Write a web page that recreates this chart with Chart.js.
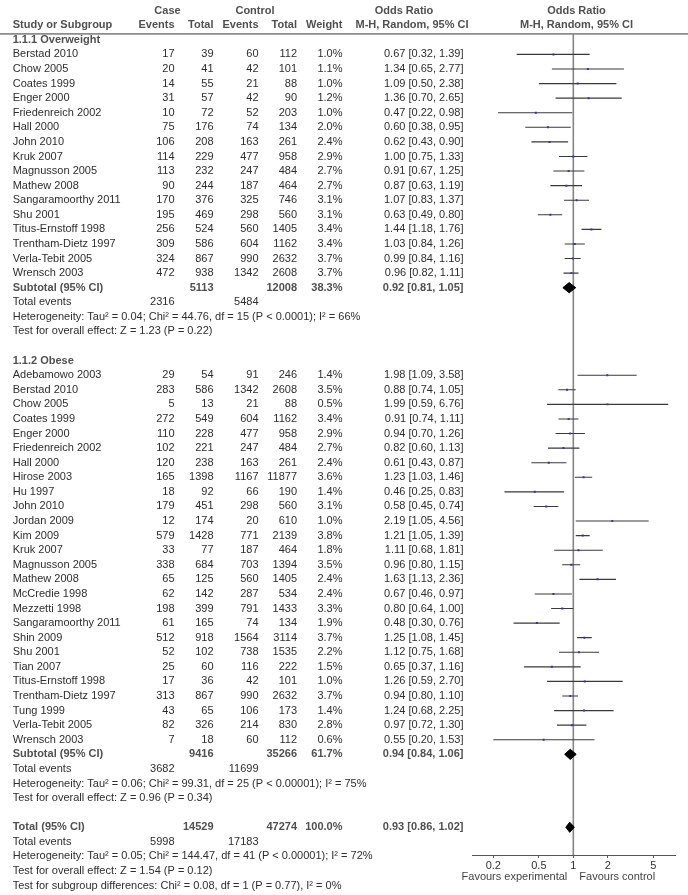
<!DOCTYPE html>
<html>
<head>
<meta charset="utf-8">
<script src="https://cdn.jsdelivr.net/npm/chart.js@4.4.1/dist/chart.umd.min.js"></script>
<style>
  body { margin: 0; background: #fff; }
  #wrap { width: 688px; height: 895px; }
</style>
</head>
<body>
<div id="wrap"><canvas id="forest" width="688" height="895"></canvas></div>
<script>
// ==================== DATA ====================

// 1.1.1 Overweight
const owNames = ['Berstad 2010', 'Chow 2005', 'Coates 1999', 'Enger 2000', 'Friedenreich 2002', 'Hall 2000',
  'John 2010', 'Kruk 2007', 'Magnusson 2005', 'Mathew 2008', 'Sangaramoorthy 2011', 'Shu 2001',
  'Titus-Ernstoff 1998', 'Trentham-Dietz 1997', 'Verla-Tebit 2005', 'Wrensch 2003'];
const owCaseEvents = [17, 20, 14, 31, 10, 75, 106, 114, 113, 90, 170, 195, 256, 309, 324, 472];
const owCaseTotal = [39, 41, 55, 57, 72, 176, 208, 229, 232, 244, 376, 469, 524, 586, 867, 938];
const owCtrlEvents = [60, 42, 21, 42, 52, 74, 163, 477, 247, 187, 325, 298, 560, 604, 990, 1342];
const owCtrlTotal = [112, 101, 88, 90, 203, 134, 261, 958, 484, 464, 746, 560, 1405, 1162, 2632, 2608];
const owWeight = [1.0, 1.1, 1.0, 1.2, 1.0, 2.0, 2.4, 2.9, 2.7, 2.7, 3.1, 3.1, 3.4, 3.4, 3.7, 3.7];
const owOR = [0.67, 1.34, 1.09, 1.36, 0.47, 0.60, 0.62, 1.00, 0.91, 0.87, 1.07, 0.63, 1.44, 1.03, 0.99, 0.96];
const owLo = [0.32, 0.65, 0.50, 0.70, 0.22, 0.38, 0.43, 0.75, 0.67, 0.63, 0.83, 0.49, 1.18, 0.84, 0.84, 0.82];
const owHi = [1.39, 2.77, 2.38, 2.65, 0.98, 0.95, 0.90, 1.33, 1.25, 1.19, 1.37, 0.80, 1.76, 1.26, 1.16, 1.11];
const owSubtotal = [5113, 12008, 38.3];      // case total, control total, weight
const owPooled = [0.92, 0.81, 1.05];         // OR, lower, upper
const owEvents = [2316, 5484];
const owStats = ['Heterogeneity: Tau\u00b2 = 0.04; Chi\u00b2 = 44.76, df = 15 (P < 0.0001); I\u00b2 = 66%',
  'Test for overall effect: Z = 1.23 (P = 0.22)'];

// 1.1.2 Obese
const obNames = ['Adebamowo 2003', 'Berstad 2010', 'Chow 2005', 'Coates 1999', 'Enger 2000', 'Friedenreich 2002',
  'Hall 2000', 'Hirose 2003', 'Hu 1997', 'John 2010', 'Jordan 2009', 'Kim 2009', 'Kruk 2007', 'Magnusson 2005',
  'Mathew 2008', 'McCredie 1998', 'Mezzetti 1998', 'Sangaramoorthy 2011', 'Shin 2009', 'Shu 2001', 'Tian 2007',
  'Titus-Ernstoff 1998', 'Trentham-Dietz 1997', 'Tung 1999', 'Verla-Tebit 2005', 'Wrensch 2003'];
const obCaseEvents = [29, 283, 5, 272, 110, 102, 120, 165, 18, 179, 12, 579, 33, 338, 65, 62, 198, 61, 512, 52, 25, 17, 313, 43, 82, 7];
const obCaseTotal = [54, 586, 13, 549, 228, 221, 238, 1398, 92, 451, 174, 1428, 77, 684, 125, 142, 399, 165, 918, 102, 60, 36, 867, 65, 326, 18];
const obCtrlEvents = [91, 1342, 21, 604, 477, 247, 163, 1167, 66, 298, 20, 771, 187, 703, 560, 287, 791, 74, 1564, 738, 116, 42, 990, 106, 214, 60];
const obCtrlTotal = [246, 2608, 88, 1162, 958, 484, 261, 11877, 190, 560, 610, 2139, 464, 1394, 1405, 534, 1433, 134, 3114, 1535, 222, 101, 2632, 173, 830, 112];
const obWeight = [1.4, 3.5, 0.5, 3.4, 2.9, 2.7, 2.4, 3.6, 1.4, 3.1, 1.0, 3.8, 1.8, 3.5, 2.4, 2.4, 3.3, 1.9, 3.7, 2.2, 1.5, 1.0, 3.7, 1.4, 2.8, 0.6];
const obOR = [1.98, 0.88, 1.99, 0.91, 0.94, 0.82, 0.61, 1.23, 0.46, 0.58, 2.19, 1.21, 1.11, 0.96, 1.63, 0.67, 0.80, 0.48, 1.25, 1.12, 0.65, 1.26, 0.94, 1.24, 0.97, 0.55];
const obLo = [1.09, 0.74, 0.59, 0.74, 0.70, 0.60, 0.43, 1.03, 0.25, 0.45, 1.05, 1.05, 0.68, 0.80, 1.13, 0.46, 0.64, 0.30, 1.08, 0.75, 0.37, 0.59, 0.80, 0.68, 0.72, 0.20];
const obHi = [3.58, 1.05, 6.76, 1.11, 1.26, 1.13, 0.87, 1.46, 0.83, 0.74, 4.56, 1.39, 1.81, 1.15, 2.36, 0.97, 1.00, 0.76, 1.45, 1.68, 1.16, 2.70, 1.10, 2.25, 1.30, 1.53];
const obSubtotal = [9416, 35266, 61.7];
const obPooled = [0.94, 0.84, 1.06];
const obEvents = [3682, 11699];
const obStats = ['Heterogeneity: Tau\u00b2 = 0.06; Chi\u00b2 = 99.31, df = 25 (P < 0.00001); I\u00b2 = 75%',
  'Test for overall effect: Z = 0.96 (P = 0.34)'];

// Overall
const totSubtotal = [14529, 47274, 100.0];
const totPooled = [0.93, 0.86, 1.02];
const totEvents = [5998, 17183];
const totStats = ['Heterogeneity: Tau\u00b2 = 0.05; Chi\u00b2 = 144.47, df = 41 (P < 0.00001); I\u00b2 = 72%',
  'Test for overall effect: Z = 1.54 (P = 0.12)',
  'Test for subgroup differences: Chi\u00b2 = 0.08, df = 1 (P = 0.77), I\u00b2 = 0%'];

// Axis
const xTicks = [0.2, 0.5, 1, 2, 5];
const xRange = [0.132, 7.74];

// ==================== LAYOUT ====================
const ROW_H = 14.65;        // px per table row
const ROW0_Y = 36;          // pixel of the first table row
const AXIS_H = 40;          // height reserved under the plot for the x axis
const H = 895;
const Y_MIN = -ROW0_Y / ROW_H;
const Y_MAX = (H - AXIS_H - ROW0_Y) / ROW_H;
const RULE_ROW = (30 - ROW0_Y) / ROW_H;
const DIAMOND_H = 0.35;
const COL_X = [12.7, 174.5, 213.5, 258.5, 297, 342.5, 463.5];
const FONT = '"Liberation Sans", Arial, sans-serif';
const FONT_SIZE = 11;
const TEXT = '#2e2e2e';
const BOLD_TEXT = '#505050';

const fmtCI = (o, l, h) => o.toFixed(2) + ' [' + l.toFixed(2) + ', ' + h.toFixed(2) + ']';

const texts = [];      // {row, x, align, text, bold}
const studies = [];    // {row, or, lo, hi}
const pooled = [];     // {row, or, lo, hi}
let r = 0;

function cell(row, col, text, bold) {
  texts.push({ row: row, x: COL_X[col], align: col === 0 ? 'left' : 'right', text: String(text), bold: bold });
}

function addSummary(label, sub, pool, events, stats) {
  cell(r, 0, label, true);
  cell(r, 2, sub[0], true);
  cell(r, 4, sub[1], true);
  cell(r, 5, sub[2].toFixed(1) + '%', true);
  cell(r, 6, fmtCI(pool[0], pool[1], pool[2]), true);
  pooled.push({ row: r, or: pool[0], lo: pool[1], hi: pool[2] });
  r++;
  cell(r, 0, 'Total events');
  cell(r, 1, events[0]);
  cell(r, 3, events[1]);
  r++;
  stats.forEach(s => { cell(r, 0, s); r++; });
}

function addGroup(title, names, ce, ct, oe, ot, w, or, lo, hi, sub, pool, events, stats) {
  cell(r, 0, title, true);
  r++;
  names.forEach((n, i) => {
    cell(r, 0, n);
    cell(r, 1, ce[i]);
    cell(r, 2, ct[i]);
    cell(r, 3, oe[i]);
    cell(r, 4, ot[i]);
    cell(r, 5, w[i].toFixed(1) + '%');
    cell(r, 6, fmtCI(or[i], lo[i], hi[i]));
    studies.push({ row: r, or: or[i], lo: lo[i], hi: hi[i] });
    r++;
  });
  addSummary('Subtotal (95% CI)', sub, pool, events, stats);
}

addGroup('1.1.1 Overweight', owNames, owCaseEvents, owCaseTotal, owCtrlEvents, owCtrlTotal, owWeight,
  owOR, owLo, owHi, owSubtotal, owPooled, owEvents, owStats);
r++;
addGroup('1.1.2 Obese', obNames, obCaseEvents, obCaseTotal, obCtrlEvents, obCtrlTotal, obWeight,
  obOR, obLo, obHi, obSubtotal, obPooled, obEvents, obStats);
r++;
addSummary('Total (95% CI)', totSubtotal, totPooled, totEvents, totStats);

// header rows
texts.push({ row: -2, x: 167.5, align: 'center', text: 'Case', bold: true });
texts.push({ row: -2, x: 255, align: 'center', text: 'Control', bold: true });
texts.push({ row: -2, x: 404, align: 'center', text: 'Odds Ratio', bold: true });
texts.push({ row: -2, x: 576.5, align: 'center', text: 'Odds Ratio', bold: true });
['Study or Subgroup', 'Events', 'Total', 'Events', 'Total', 'Weight'].forEach((t, i) => cell(-1, i, t, true));
texts.push({ row: -1, x: 412, align: 'center', text: 'M-H, Random, 95% CI', bold: true });
texts.push({ row: -1, x: 576.5, align: 'center', text: 'M-H, Random, 95% CI', bold: true });

// ==================== CHART ====================

const datasets = [];

// study point estimates
datasets.push({
  data: studies.map(s => ({ x: s.or, y: s.row })),
  pointStyle: 'rect',
  pointRadius: 1.4,
  backgroundColor: '#35359a',
  borderWidth: 0
});

// pooled diamonds
pooled.forEach(p => {
  datasets.push({
    data: [
      { x: p.lo, y: p.row }, { x: p.or, y: p.row - DIAMOND_H },
      { x: p.hi, y: p.row }, { x: p.or, y: p.row + DIAMOND_H }, { x: p.lo, y: p.row }
    ],
    showLine: true,
    fill: 'shape',
    backgroundColor: '#000',
    borderColor: '#000',
    borderWidth: 1,
    pointRadius: 0
  });
});

// confidence intervals
studies.forEach(s => {
  datasets.push({
    data: [{ x: s.lo, y: s.row }, { x: s.hi, y: s.row }],
    showLine: true,
    borderColor: '#3a3a3a',
    borderWidth: 1.1,
    pointRadius: 0
  });
});

// line of no effect
datasets.push({
  data: [{ x: 1, y: RULE_ROW }, { x: 1, y: Y_MAX }],
  showLine: true,
  borderColor: '#858585',
  borderWidth: 1.6,
  pointRadius: 0
});

const tablePlugin = {
  id: 'forestTable',
  afterDraw(chart) {
    const ctx = chart.ctx;
    const ys = chart.scales.y;
    const xs = chart.scales.x;
    ctx.save();

    // header rule
    const ruleY = ys.getPixelForValue(RULE_ROW);
    ctx.strokeStyle = '#8c8c8c';
    ctx.lineWidth = 1.6;
    ctx.beginPath();
    ctx.moveTo(0, ruleY);
    ctx.lineTo(chart.width, ruleY);
    ctx.stroke();

    ctx.textBaseline = 'middle';
    texts.forEach(t => {
      ctx.font = (t.bold ? 'bold ' : '') + FONT_SIZE + 'px ' + FONT;
      ctx.fillStyle = t.bold ? BOLD_TEXT : TEXT;
      ctx.textAlign = t.align;
      ctx.fillText(t.text, t.x, ys.getPixelForValue(t.row));
    });

    // favours labels under the axis
    const one = xs.getPixelForValue(1);
    const fy = xs.top + 22;
    ctx.font = FONT_SIZE + 'px ' + FONT;
    ctx.fillStyle = '#444';
    ctx.textAlign = 'right';
    ctx.fillText('Favours experimental', one - 6, fy);
    ctx.textAlign = 'left';
    ctx.fillText('Favours control', one + 6, fy);
    ctx.restore();
  }
};

const ctx = document.getElementById('forest').getContext('2d');
new Chart(ctx, {
  type: 'scatter',
  data: { datasets: datasets },
  options: {
    responsive: false,
    animation: false,
    layout: { padding: { left: 472.7, right: 13, top: 0, bottom: 0 } },
    plugins: { legend: { display: false }, tooltip: { enabled: false } },
    scales: {
      x: {
        type: 'logarithmic',
        min: xRange[0],
        max: xRange[1],
        afterFit: s => { s.height = AXIS_H; },
        afterBuildTicks: s => { s.ticks = xTicks.map(v => ({ value: v })); },
        ticks: {
          callback: v => String(v),
          color: '#333',
          font: { size: 11, family: FONT },
          padding: 1,
          maxRotation: 0,
          autoSkip: false
        },
        grid: { drawOnChartArea: false, tickLength: 3, color: '#555' },
        border: { color: '#555', width: 1 }
      },
      y: { type: 'linear', display: false, reverse: true, min: Y_MIN, max: Y_MAX }
    }
  },
  plugins: [tablePlugin]
});
</script>
</body>
</html>
